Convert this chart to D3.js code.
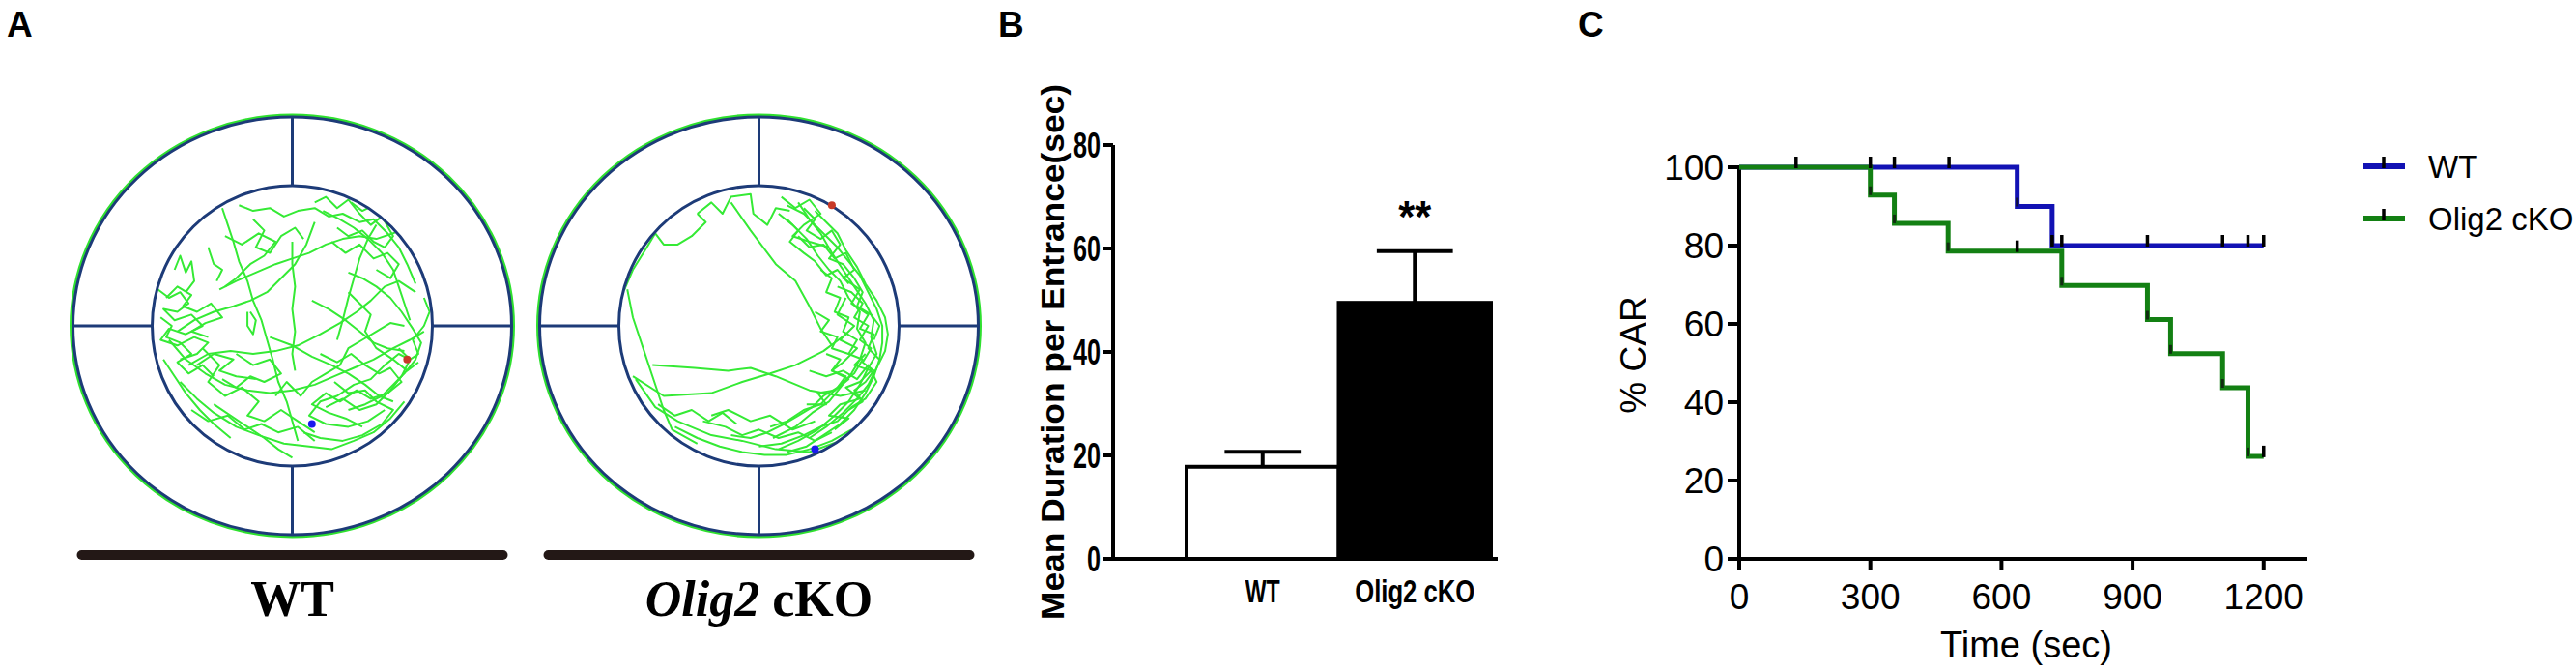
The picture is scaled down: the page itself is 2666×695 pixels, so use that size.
<!DOCTYPE html>
<meta charset="utf-8">
<title>Olig2 cKO place avoidance</title>
<style>
body { margin: 0; background: #fff; }
text { font-family: "Liberation Sans", Arial, sans-serif; }
</style>
<body>
<script src="https://cdn.jsdelivr.net/npm/d3@7"></script>
<script>
// ---- panel A: arena traces (coords in % of the inner circle box) ----
var arenaNames = ["WT", "Olig2 cKO"];

var wtTrack = [
  [[31,7],[36,9],[42,8],[47,11],[52,9],[58,8],[63,11],[68,10],[74,13],[79,12],[84,17],[88,22],[91,28],[94,35]],
  [[24,37],[30,34],[37,31],[44,28],[50,26],[56,24],[62,21],[68,19],[74,18],[80,19],[86,17],[90,15]],
  [[25,8],[27,14],[29,20],[31,27],[34,34],[36,41],[39,48],[41,55],[43,62],[45,70],[48,77],[50,84],[52,91]],
  [[2,37],[6,40],[10,38],[13,42],[9,45],[4,44],[8,48],[14,46],[18,50],[12,53],[6,51],[3,55],[9,57],[15,54],[20,56],[16,60],[10,62]],
  [[13,64],[20,60],[28,59],[36,60],[44,59],[52,57],[60,53],[67,49],[73,45],[78,41],[83,36],[88,34],[94,38]],
  [[50,20],[50,28],[51,36],[50,44],[51,52],[50,60],[51,66]],
  [[6,55],[12,62],[19,67],[26,71],[34,73],[42,74],[50,73],[58,71],[65,68],[72,65],[79,62],[86,58],[92,55],[97,52]],
  [[70,31],[75,33],[80,36],[85,40],[89,45],[93,51],[96,56],[94,62],[90,67],[86,71],[82,75],[76,78],[70,80]],
  [[61,9],[67,12],[72,15],[77,19],[82,24],[86,30],[88,36],[90,42],[92,48]],
  [[62,79],[68,76],[74,80],[80,78],[85,73],[89,68],[92,62],[88,60],[83,64],[78,69],[72,71],[66,75],[60,77],[56,82],[62,85],[70,86],[77,84],[83,80]],
  [[42,54],[50,57],[57,61],[64,64],[70,67],[76,71],[81,75],[86,77]],
  [[22,78],[28,82],[34,86],[40,90],[45,94],[50,97]],
  [[58,13],[55,21],[51,28],[46,33],[41,38],[35,41],[29,43],[22,45],[15,48],[9,52]],
  [[34,45],[34,50],[36,53],[37,48],[35,45]],
  [[66,55],[68,48],[70,40],[72,33],[74,26],[77,19],[80,14]],
  [[10,70],[16,76],[22,81],[30,86],[38,89],[47,92],[56,93],[64,94],[72,91],[79,88],[85,83],[90,77]],
  [[4,62],[8,68],[12,74],[17,80],[22,85],[28,90]],
  [[26,18],[32,21],[38,17],[44,20],[40,25],[35,28],[30,33],[26,36]],
  [[57,41],[63,44],[69,48],[74,52],[79,56],[84,58],[90,59]],
  [[18,58],[24,64],[20,70],[26,75],[32,72],[38,77],[34,82],[40,84],[46,80],[52,84],[58,88]],
  [[88,58],[92,62],[95,60],[93,55],[97,50],[99,45],[97,40]],
  [[71,6],[75,9],[79,7],[83,12],[87,16]],
  [[20,22],[22,28],[25,30],[23,34]],
  [[5,40],[9,36],[14,39],[11,43],[16,45],[21,42],[25,47],[19,49],[14,52],[20,54]],
  [[3,47],[7,50],[5,54],[10,56],[14,60],[9,63],[13,67],[18,64],[22,68]],
  [[8,30],[10,25],[12,31],[14,27],[15,34],[12,38]],
  [[60,60],[66,63],[71,60],[76,64],[81,67],[85,65],[89,70],[84,74],[78,76],[73,73],[67,77],[62,74],[57,78],[63,81],[69,83],[75,86]],
  [[65,70],[70,74],[76,73],[80,77],[86,80],[82,85],[75,89],[68,91],[60,90],[54,88]],
  [[58,6],[62,4],[66,8],[70,5],[74,10],[78,14],[82,11],[86,18],[83,22],[79,20],[75,16],[70,18],[66,15]],
  [[64,20],[69,24],[74,21],[79,26],[84,24],[88,28],[85,33],[80,30]],
  [[30,60],[36,64],[42,62],[46,67],[40,70],[35,68],[30,72],[25,69]],
  [[14,80],[20,84],[27,82],[33,87],[39,85],[45,88],[52,86],[58,91]],
  [[44,75],[48,70],[53,75],[57,70],[62,67],[67,64],[70,58],[75,55],[80,52],[85,49],[90,50]],
  [[36,12],[40,16],[37,22],[42,24],[46,18],[51,15],[54,19]],
  [[16,64],[22,60],[29,62],[24,66],[30,68],[37,69]],
  [[70,38],[74,42],[78,46],[76,52],[80,58],[86,62],[91,66],[95,63]]
];
var wtDots = [[57,85],[91,62]];

var ckoTrack = [
  [[28,10],[33,6],[37,10],[40,4],[47,3],[48,10],[53,14],[56,8],[61,9]],
  [[2,37],[5,30],[10,22],[13,17],[16,21],[21,21],[26,18],[31,13],[28,10]],
  [[3,37],[5,47],[9,59],[12,68],[16,80],[19,87],[28,92]],
  [[40,6],[47,16],[56,28],[63,34],[68,43],[72,51],[76,57]],
  [[5,68],[16,75],[33,74],[44,70],[54,67],[63,64],[73,59],[81,53]],
  [[12,64],[27,65],[39,66],[47,65],[56,68],[68,73],[79,75],[88,73]],
  [[6,69],[13,79],[21,84],[33,89],[44,91],[56,94],[68,95],[79,91],[88,84],[94,77]],
  [[33,82],[39,80],[47,84],[54,82],[62,87],[70,84]],
  [[60,7],[66,10],[70,14],[74,18],[78,22],[82,27],[86,32],[89,38],[92,44],[94,50],[94,56],[93,62],[91,68],[88,74],[84,80],[79,85],[73,89],[67,93],[60,95]],
  [[64,6],[68,12],[72,17],[76,24],[80,30],[84,36],[88,42],[91,48],[90,54],[92,60],[89,65],[86,71],[82,77],[77,82],[71,87],[64,91],[57,94]],
  [[57,10],[62,14],[67,19],[71,25],[75,30],[79,34],[82,40],[86,45],[85,51],[88,56],[86,62],[83,67],[79,72],[75,77],[69,81],[63,86],[55,90]],
  [[70,9],[74,13],[78,17],[81,23],[85,29],[88,35],[92,41],[95,47],[96,53],[95,59],[92,65],[89,71],[85,76],[80,81],[74,86],[68,90]],
  [[72,30],[76,33],[74,38],[79,40],[77,45],[82,47],[80,52],[85,55],[82,60],[87,62],[84,67],[80,70],[76,74],[72,78],[66,80],[60,84],[54,86]],
  [[64,18],[68,22],[73,21],[77,26],[81,24],[84,30],[80,33],[86,37],[83,42],[89,46],[86,51],[91,53],[89,58],[93,62]],
  [[58,4],[63,8],[68,5],[72,10],[66,14],[62,18],[68,20],[75,22]],
  [[81,40],[78,46],[84,50],[79,55],[85,58],[80,63],[76,66],[82,69],[77,73],[71,74],[74,78],[67,78]],
  [[88,60],[84,64],[90,66],[86,70],[81,72],[86,76],[79,78],[75,82],[82,83],[77,87]],
  [[20,86],[28,90],[36,93],[44,95],[52,96],[60,96],[68,94],[76,91],[83,87]],
  [[66,8],[70,12],[67,16],[72,19],[76,16],[79,21],[75,26],[80,28],[84,33],[87,38],[85,43],[90,46],[93,50],[91,55]],
  [[78,36],[83,38],[87,42],[84,47],[89,50],[86,55],[90,58],[87,63],[91,66],[88,70],[84,73],[87,77],[82,80]],
  [[74,60],[79,62],[76,66],[81,68],[78,72],[73,75],[69,79],[64,82],[59,85],[53,88],[47,90],[40,89]],
  [[68,66],[74,68],[80,66],[85,69],[89,64],[92,70],[88,76],[83,79],[78,84],[72,86],[66,89],[58,92],[50,93]],
  [[60,12],[64,16],[61,20],[66,24],[70,27],[74,32],[78,30],[82,35]],
  [[30,84],[38,86],[44,89],[50,87],[57,90],[64,88],[70,91],[76,88]],
  [[14,78],[20,82],[26,80],[32,84],[37,81],[42,85]],
  [[70,45],[75,48],[72,52],[78,54],[76,58],[82,60]]
];
var ckoDots = [[70,94],[76,7]];

// ---- panel B: mean duration per entrance ----
var barGroups = ["WT", "Olig2 cKO"];
var barMeans = [17.8, 49.5];
var barSem = [2.9, 10.0];
var barTicks = [0, 20, 40, 60, 80];

// ---- panel C: Kaplan-Meier, % CAR ----
var wtTimes = [0, 636, 716, 1200];
var wtSurv = [100, 90, 80, 80];
var wtCensor = [130, 300, 355, 480, 716, 738, 934, 1106, 1164, 1200];
var ckoTimes = [0, 300, 355, 478, 738, 934, 987, 1106, 1164, 1200];
var ckoSurv = [100, 92.9, 85.7, 78.6, 69.8, 61.1, 52.4, 43.7, 26.2, 26.2];
var ckoCensor = [636, 1200];
var carTicksY = [0, 20, 40, 60, 80, 100];
var carTicksX = [0, 300, 600, 900, 1200];

var w = 2666, h = 695;

var svg = d3.select("body").append("svg")
    .attr("width", w)
    .attr("height", h);

svg.append("rect").attr("width", w).attr("height", h).attr("fill", "#fff");

// panel letters
svg.selectAll("text.panel")
    .data([["A", 7], ["B", 1033], ["C", 1633]])
  .enter().append("text")
    .attr("class", "panel")
    .attr("x", function(d) { return d[1]; })
    .attr("y", 38)
    .style("font-size", "37px")
    .style("font-weight", "bold")
    .text(function(d) { return d[0]; });

// ================= A =================
var navy = "#1d3b78";
var arenaX = d3.scaleBand().domain(arenaNames).range([61, 1027]);
var cy = 337, rx = 227, ry = 216, rIn = 145;
var tracks = [wtTrack, ckoTrack];
var dots = [wtDots, ckoDots];
var dotColors = ["#1a1aee", "#c83a28"];

arenaNames.forEach(function(name, i) {
  var cx = arenaX(name) + arenaX.bandwidth() / 2;
  var g = svg.append("g");
  var tx = d3.scaleLinear().domain([0, 100]).range([cx - rIn, cx + rIn]);
  var ty = d3.scaleLinear().domain([0, 100]).range([cy - rIn, cy + rIn]);

  g.append("clipPath").attr("id", "clip" + i)
    .append("circle").attr("cx", cx).attr("cy", cy).attr("r", rIn - 1);

  var line = d3.line().x(function(d) { return tx(d[0]); }).y(function(d) { return ty(d[1]); });

  g.append("g").attr("clip-path", "url(#clip" + i + ")")
    .selectAll("path")
      .data(tracks[i])
    .enter().append("path")
      .attr("d", line)
      .attr("fill", "none")
      .attr("stroke", "#35ea35")
      .attr("stroke-width", 2)
      .attr("stroke-linejoin", "round");

  // outer ring with green halo
  g.append("ellipse").attr("cx", cx).attr("cy", cy).attr("rx", rx + 2).attr("ry", ry + 2)
    .attr("fill", "none").attr("stroke", "#2fe02f").attr("stroke-width", 3);
  g.append("ellipse").attr("cx", cx).attr("cy", cy).attr("rx", rx).attr("ry", ry)
    .attr("fill", "none").attr("stroke", navy).attr("stroke-width", 3);
  g.append("circle").attr("cx", cx).attr("cy", cy).attr("r", rIn)
    .attr("fill", "none").attr("stroke", navy).attr("stroke-width", 3);

  var spokes = [[cx, cy - ry, cx, cy - rIn], [cx, cy + rIn, cx, cy + ry],
                [cx - rx, cy, cx - rIn, cy], [cx + rIn, cy, cx + rx, cy]];
  g.selectAll("line.spoke").data(spokes).enter().append("line")
    .attr("x1", function(d) { return d[0]; }).attr("y1", function(d) { return d[1]; })
    .attr("x2", function(d) { return d[2]; }).attr("y2", function(d) { return d[3]; })
    .attr("stroke", navy).attr("stroke-width", 3);

  g.selectAll("circle.dot").data(dots[i]).enter().append("circle")
    .attr("cx", function(d) { return tx(d[0]); })
    .attr("cy", function(d) { return ty(d[1]); })
    .attr("r", 4)
    .attr("fill", function(d, j) { return dotColors[j]; });

  g.append("line")
    .attr("x1", cx - 218).attr("x2", cx + 218)
    .attr("y1", 574).attr("y2", 574)
    .attr("stroke", "#231816").attr("stroke-width", 10).attr("stroke-linecap", "round");

  var lab = g.append("text")
    .attr("x", cx).attr("y", 637)
    .attr("text-anchor", "middle")
    .style("font-family", "'Liberation Serif', 'Times New Roman', serif")
    .style("font-size", "52px")
    .style("font-weight", "bold");
  if (name === "WT") {
    lab.text("WT");
  } else {
    lab.append("tspan").style("font-style", "italic").text("Olig2");
    lab.append("tspan").text(" cKO");
  }
});

// ================= B =================
var bY = d3.scaleLinear().domain([0, 80]).range([578, 150]);
var bX = d3.scaleBand().domain(barGroups).range([1228, 1543]);
var bAxisX = 1152;
var gb = svg.append("g");

gb.selectAll("rect.bar")
    .data(barGroups)
  .enter().append("rect")
    .attr("x", function(d) { return bX(d); })
    .attr("y", function(d, i) { return bY(barMeans[i]); })
    .attr("width", bX.bandwidth())
    .attr("height", function(d, i) { return bY(0) - bY(barMeans[i]); })
    .attr("fill", function(d, i) { return i === 0 ? "#fff" : "#000"; })
    .attr("stroke", "#000")
    .attr("stroke-width", 4);

barGroups.forEach(function(d, i) {
  var mx = bX(d) + bX.bandwidth() / 2, top = bY(barMeans[i] + barSem[i]);
  gb.append("line").attr("x1", mx).attr("x2", mx).attr("y1", bY(barMeans[i])).attr("y2", top)
    .attr("stroke", "#000").attr("stroke-width", 4);
  gb.append("line").attr("x1", mx - bX.bandwidth() / 4).attr("x2", mx + bX.bandwidth() / 4)
    .attr("y1", top).attr("y2", top)
    .attr("stroke", "#000").attr("stroke-width", 4);
  gb.append("text")
    .attr("x", mx).attr("y", 623)
    .attr("text-anchor", "middle")
    .attr("textLength", i === 0 ? 36 : 124)
    .attr("lengthAdjust", "spacingAndGlyphs")
    .style("font-size", "33px").style("font-weight", "bold")
    .text(d);
});

// axes
gb.append("line").attr("x1", bAxisX).attr("x2", bAxisX).attr("y1", bY(80)).attr("y2", bY(0) + 2)
  .attr("stroke", "#000").attr("stroke-width", 4);
gb.append("line").attr("x1", bAxisX - 10).attr("x2", 1550).attr("y1", bY(0)).attr("y2", bY(0))
  .attr("stroke", "#000").attr("stroke-width", 4);
gb.selectAll("line.tick").data(barTicks).enter().append("line")
  .attr("x1", bAxisX - 10).attr("x2", bAxisX)
  .attr("y1", function(d) { return bY(d); }).attr("y2", function(d) { return bY(d); })
  .attr("stroke", "#000").attr("stroke-width", 4);
gb.selectAll("text.tl").data(barTicks).enter().append("text")
  .attr("x", 1139).attr("y", function(d) { return bY(d) + 13; })
  .attr("text-anchor", "end")
  .attr("textLength", function(d) { return String(d).length * 14; })
  .attr("lengthAdjust", "spacingAndGlyphs")
  .style("font-size", "37px").style("font-weight", "bold")
  .text(function(d) { return d; });

gb.append("text")
  .attr("transform", "translate(1101,364) rotate(-90)")
  .attr("text-anchor", "middle")
  .attr("textLength", 554)
  .attr("lengthAdjust", "spacingAndGlyphs")
  .style("font-size", "33px").style("font-weight", "bold")
  .text("Mean Duration per Entrance(sec)");

gb.append("text")
  .attr("x", bX("Olig2 cKO") + bX.bandwidth() / 2).attr("y", 240)
  .attr("text-anchor", "middle")
  .attr("textLength", 34)
  .attr("lengthAdjust", "spacingAndGlyphs")
  .style("font-size", "46px").style("font-weight", "bold")
  .text("**");

// ================= C =================
var cX = d3.scaleLinear().domain([0, 1300]).range([1800, 2388]);
var cY = d3.scaleLinear().domain([0, 100]).range([578, 173]);
var gc = svg.append("g");
var blue = "#1212b4", green = "#138013";

gc.append("line").attr("x1", cX(0)).attr("x2", cX(0)).attr("y1", cY(100)).attr("y2", cY(0) + 12)
  .attr("stroke", "#000").attr("stroke-width", 4);
gc.append("line").attr("x1", cX(0) - 12).attr("x2", cX(1300)).attr("y1", cY(0)).attr("y2", cY(0))
  .attr("stroke", "#000").attr("stroke-width", 4);
gc.selectAll("line.yt").data(carTicksY).enter().append("line")
  .attr("x1", cX(0) - 12).attr("x2", cX(0))
  .attr("y1", function(d) { return cY(d); }).attr("y2", function(d) { return cY(d); })
  .attr("stroke", "#000").attr("stroke-width", 4);
gc.selectAll("line.xt").data(carTicksX).enter().append("line")
  .attr("x1", function(d) { return cX(d); }).attr("x2", function(d) { return cX(d); })
  .attr("y1", cY(0)).attr("y2", cY(0) + 12)
  .attr("stroke", "#000").attr("stroke-width", 4);
gc.selectAll("text.yl").data(carTicksY).enter().append("text")
  .attr("x", cX(0) - 16).attr("y", function(d) { return cY(d) + 13; })
  .attr("text-anchor", "end")
  .style("font-size", "37px")
  .text(function(d) { return d; });
gc.selectAll("text.xl").data(carTicksX).enter().append("text")
  .attr("x", function(d) { return cX(d); }).attr("y", 630)
  .attr("text-anchor", "middle")
  .style("font-size", "37px")
  .text(function(d) { return d; });
gc.append("text")
  .attr("transform", "translate(1703,367) rotate(-90)")
  .attr("text-anchor", "middle")
  .style("font-size", "37px")
  .text("% CAR");
gc.append("text")
  .attr("x", 2097).attr("y", 680)
  .attr("text-anchor", "middle")
  .style("font-size", "38px")
  .text("Time (sec)");

function survAt(times, surv, t) {
  var i = d3.bisectRight(times, t) - 1;
  return surv[Math.max(0, i)];
}

var series = [
  {times: wtTimes, surv: wtSurv, censor: wtCensor, color: blue},
  {times: ckoTimes, surv: ckoSurv, censor: ckoCensor, color: green}
];

var step = d3.line()
    .x(function(d) { return cX(d[0]); })
    .y(function(d) { return cY(d[1]); })
    .curve(d3.curveStepAfter);

series.forEach(function(s) {
  gc.append("path")
    .attr("d", step(d3.zip(s.times, s.surv)))
    .attr("fill", "none")
    .attr("stroke", s.color)
    .attr("stroke-width", 5);
  // dark marks at the foot of each drop
  var drops = s.times.filter(function(t, i) { return i > 0 && s.surv[i] < s.surv[i - 1]; });
  gc.selectAll(null).data(drops).enter().append("line")
    .attr("x1", function(t) { return cX(t); }).attr("x2", function(t) { return cX(t); })
    .attr("y1", function(t) { return cY(survAt(s.times, s.surv, t)) - 9; })
    .attr("y2", function(t) { return cY(survAt(s.times, s.surv, t)); })
    .attr("stroke", "#111").attr("stroke-width", 3).attr("opacity", 0.75);
});
series.forEach(function(s) {
  gc.selectAll(null).data(s.censor).enter().append("line")
    .attr("x1", function(t) { return cX(t); }).attr("x2", function(t) { return cX(t); })
    .attr("y1", function(t) { return cY(survAt(s.times, s.surv, t)) - 11; })
    .attr("y2", function(t) { return cY(survAt(s.times, s.surv, t)) + 1; })
    .attr("stroke", "#000").attr("stroke-width", 3.5);
});

// legend
var legNames = ["WT", "Olig2 cKO"];
var legY = d3.scalePoint().domain(legNames).range([172, 226]);
legNames.forEach(function(n, i) {
  var y = legY(n);
  gc.append("line").attr("x1", 2446).attr("x2", 2489).attr("y1", y).attr("y2", y)
    .attr("stroke", series[i].color).attr("stroke-width", 6);
  gc.append("line").attr("x1", 2467).attr("x2", 2467).attr("y1", y - 10).attr("y2", y + 2)
    .attr("stroke", "#000").attr("stroke-width", 3.5);
  gc.append("text").attr("x", 2513).attr("y", y + 12)
    .style("font-size", "33px")
    .text(n);
});
</script>
